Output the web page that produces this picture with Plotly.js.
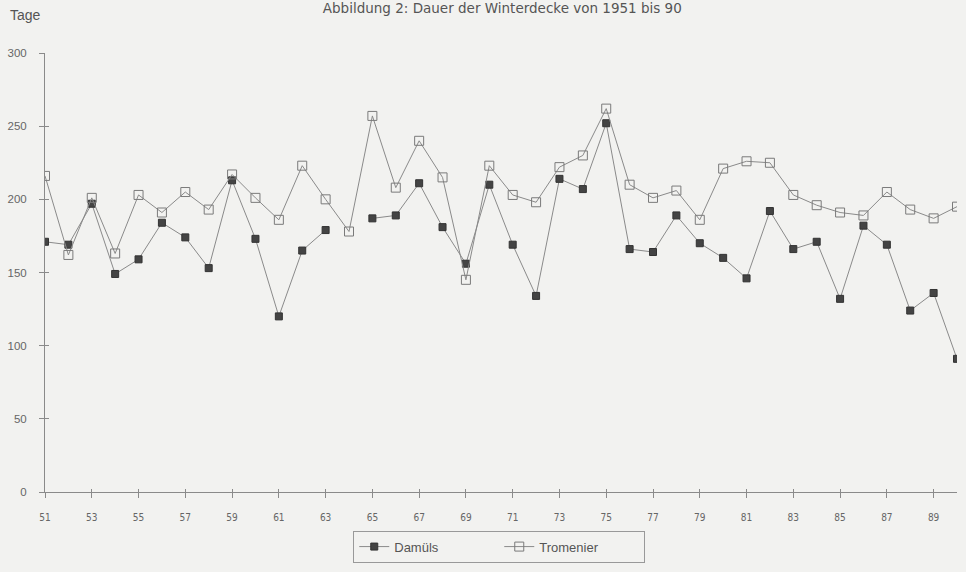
<!DOCTYPE html>
<html>
<head>
<meta charset="utf-8">
<script src="https://cdn.plot.ly/plotly-3.0.1.min.js"></script>
<style>html,body{margin:0;padding:0;background:#f2f2f0;}#chart{width:966px;height:572px;}</style>
</head>
<body>
<div id="chart"></div>
<script>
const years = [51,52,53,54,55,56,57,58,59,60,61,62,63,64,65,66,67,68,69,70,71,72,73,74,75,76,77,78,79,80,81,82,83,84,85,86,87,88,89,90];
const damuels = [171,169,197,149,159,184,174,153,213,173,120,165,179,null,187,189,211,181,156,210,169,134,214,207,252,166,164,189,170,160,146,192,166,171,132,182,169,124,136,91];
const tromenier = [216,162,201,163,203,191,205,193,217,201,186,223,200,178,257,208,240,215,145,223,203,198,222,230,262,210,201,206,186,221,226,225,203,196,191,189,205,193,187,195];
const xTicks = [51,53,55,57,59,61,63,65,67,69,71,73,75,77,79,81,83,85,87,89];
const yTicks = [0,50,100,150,200,250,300];

const traces = [
  {x: years, y: damuels, name: 'Damüls', type: 'scatter', mode: 'lines+markers',
   connectgaps: false,
   line: {color: '#8a8a8a', width: 1},
   marker: {symbol: 'square', size: 7, color: '#444444', line: {color: '#333333', width: 1}}},
  {x: years, y: tromenier, name: 'Tromenier', type: 'scatter', mode: 'lines+markers',
   line: {color: '#8a8a8a', width: 1},
   marker: {symbol: 'square-open', size: 9, color: '#7a7a7a', line: {width: 1}}},
  {x: [null], y: [null], xaxis: 'x2', yaxis: 'y2', showlegend: false, hoverinfo: 'skip', type: 'scatter', mode: 'markers'}
];

const layout = {
  width: 966, height: 572,
  paper_bgcolor: '#f2f2f0', plot_bgcolor: 'rgba(0,0,0,0)',
  margin: {l: 45, r: 9, t: 53, b: 78},
  font: {family: 'Liberation Sans, Arial, sans-serif', color: '#555555'},
  title: {text: 'Abbildung 2: Dauer der Winterdecke von 1951 bis 90',
          x: 0.52, xanchor: 'center', y: 0.986, yanchor: 'middle', yref: 'container',
          font: {size: 13.5, color: '#555555', family: 'DejaVu Sans, sans-serif'}},
  xaxis: {range: [51, 90], tickvals: xTicks, ticktext: xTicks.map(String),
          showgrid: false, zeroline: false, showline: true, linecolor: '#8a8a8a', linewidth: 1,
          ticks: 'outside', ticklen: 5, tickcolor: '#8a8a8a',
          ticklabelstandoff: 11,
          tickfont: {size: 10, color: '#666666', family: 'DejaVu Sans Condensed, Liberation Sans Narrow, sans-serif'}},
  yaxis: {range: [0, 300], tickvals: yTicks, showgrid: false, zeroline: false,
          showline: true, linecolor: '#8a8a8a', linewidth: 1,
          ticks: 'outside', ticklen: 5, tickcolor: '#8a8a8a',
          ticklabelstandoff: 10,
          tickfont: {size: 11.5, color: '#666666'}},
  xaxis2: {range: [51, 90], overlaying: 'x', anchor: 'y2', tickvals: xTicks, showticklabels: false,
           showgrid: false, zeroline: false, showline: false, ticks: 'inside', ticklen: 3, tickcolor: '#8a8a8a'},
  yaxis2: {range: [0, 300], overlaying: 'y', anchor: 'x2', tickvals: yTicks, showticklabels: false,
           showgrid: false, zeroline: false, showline: false, ticks: 'inside', ticklen: 4, tickcolor: '#8a8a8a'},
  showlegend: true,
  legend: {orientation: 'h', x: 0.338, xanchor: 'left', y: -0.088, yanchor: 'top',
           bgcolor: '#f2f2f0', bordercolor: '#999999', borderwidth: 1,
           entrywidth: 100, entrywidthmode: 'pixels',
           font: {size: 13, color: '#555555'}},
  annotations: [
    {text: 'Tage', xref: 'paper', yref: 'paper', x: -0.041, y: 1.086, xanchor: 'left', yanchor: 'middle',
     showarrow: false, font: {size: 14, color: '#555555'}}
  ]
};

Plotly.newPlot('chart', traces, layout, {displayModeBar: false, staticPlot: true});
</script>
</body>
</html>
